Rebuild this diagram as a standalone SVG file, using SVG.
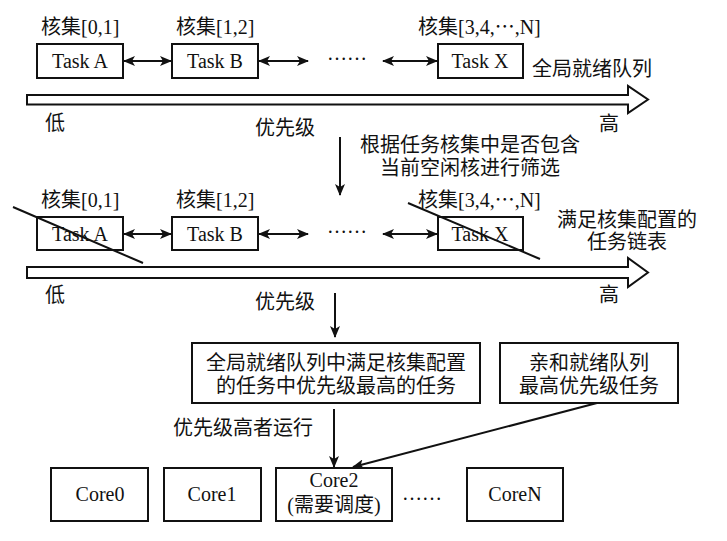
<svg xmlns="http://www.w3.org/2000/svg" width="727" height="541" viewBox="0 0 727 541">
<style>
.t{font-family:"Liberation Serif","Noto Sans CJK SC",serif;font-size:20px;fill:#111}
.c{text-anchor:middle}
.box{fill:#fff;stroke:#111;stroke-width:2}
.ln{fill:none;stroke:#111;stroke-width:2}
.big{fill:#fff;stroke:#111;stroke-width:2;stroke-linejoin:miter}
</style>
<defs>
<marker id="ah" viewBox="0 0 12 10" refX="11" refY="5" markerWidth="12" markerHeight="10" markerUnits="userSpaceOnUse" orient="auto-start-reverse">
<path d="M0,0 L12,5 L0,10 L3,5 Z" fill="#111"/>
</marker>
</defs>
<rect width="727" height="541" fill="#fff"/>

<!-- Top queue -->
<g id="queue1">
<g id="q1-taskA"><text class="t" x="41" y="34">核集[0,1]</text><rect class="box" x="37" y="44" width="86" height="34"/><text class="t c" x="80" y="68">Task A</text></g>
<g id="q1-taskB"><text class="t" x="176" y="34">核集[1,2]</text><rect class="box" x="172" y="44" width="86" height="34"/><text class="t c" x="215" y="68">Task B</text></g>
<g id="q1-dots"><text class="t" x="327" y="60">……</text></g>
<g id="q1-taskX"><text class="t" x="418" y="34">核集[3,4,⋯,N]</text><rect class="box" x="438" y="44" width="85" height="34"/><text class="t c" x="480" y="68">Task X</text></g>
<g id="q1-label"><text class="t" x="532" y="76">全局就绪队列</text></g>
<g id="q1-axis">
<path class="big" d="M27,95 H628 V86 L648,99.5 L628,113 V104.5 H27 Z"/>
<text class="t" x="45" y="130">低</text>
<text class="t" x="255" y="135">优先级</text>
<text class="t" x="599" y="131">高</text>
</g>
</g>

<g id="filter-label"><text class="t c" x="470" y="152">根据任务核集中是否包含</text><text class="t c" x="470" y="175">当前空闲核进行筛选</text></g>

<!-- Filtered queue -->
<g id="queue2">
<g id="q2-taskA"><text class="t" x="41" y="207">核集[0,1]</text><rect class="box" x="37" y="217" width="86" height="33"/><text class="t c" x="80" y="241">Task A</text><line class="ln" x1="13" y1="207" x2="143" y2="263"/></g>
<g id="q2-taskB"><text class="t" x="176" y="207">核集[1,2]</text><rect class="box" x="172" y="217" width="86" height="33"/><text class="t c" x="215" y="241">Task B</text></g>
<g id="q2-dots"><text class="t" x="327" y="233">……</text></g>
<g id="q2-taskX"><text class="t" x="418" y="207">核集[3,4,⋯,N]</text><rect class="box" x="438" y="217" width="85" height="33"/><text class="t c" x="480" y="241">Task X</text><line class="ln" x1="408" y1="203" x2="540" y2="259"/></g>
<g id="q2-label"><text class="t c" x="627" y="227">满足核集配置的</text><text class="t c" x="627" y="249">任务链表</text></g>
<g id="q2-axis">
<path class="big" d="M27,267 H628 V258 L648,272.5 L628,287 V278 H27 Z"/>
<text class="t" x="45" y="302">低</text>
<text class="t" x="255" y="309">优先级</text>
<text class="t" x="599" y="302">高</text>
</g>
</g>

<g id="global-best"><rect class="box" x="192" y="343" width="288" height="60"/><text class="t c" x="336" y="370">全局就绪队列中满足核集配置</text><text class="t c" x="336" y="393">的任务中优先级最高的任务</text></g>
<g id="affinity-best"><rect class="box" x="500" y="343" width="178" height="60"/><text class="t c" x="589" y="370">亲和就绪队列</text><text class="t c" x="589" y="393">最高优先级任务</text></g>
<g id="run-label"><text class="t" x="173" y="435">优先级高者运行</text></g>

<g id="core0"><rect class="box" x="51" y="468" width="97" height="53"/><text class="t c" x="100" y="501">Core0</text></g>
<g id="core1"><rect class="box" x="164" y="468" width="97" height="53"/><text class="t c" x="212" y="501">Core1</text></g>
<g id="core2"><rect class="box" x="276" y="468" width="116" height="53"/><text class="t c" x="334" y="487">Core2</text><text class="t c" x="334" y="512">(需要调度)</text></g>
<g id="core-dots"><text class="t" x="402" y="500">……</text></g>
<g id="coreN"><rect class="box" x="467" y="468" width="96" height="53"/><text class="t c" x="515" y="501">CoreN</text></g>

<g id="connectors">
<line class="ln" x1="124" y1="61" x2="171" y2="61" marker-start="url(#ah)" marker-end="url(#ah)"/>
<line class="ln" x1="259" y1="61" x2="308" y2="61" marker-start="url(#ah)" marker-end="url(#ah)"/>
<line class="ln" x1="383" y1="61" x2="437" y2="61" marker-start="url(#ah)" marker-end="url(#ah)"/>
<line class="ln" x1="124" y1="234" x2="171" y2="234" marker-start="url(#ah)" marker-end="url(#ah)"/>
<line class="ln" x1="259" y1="234" x2="308" y2="234" marker-start="url(#ah)" marker-end="url(#ah)"/>
<line class="ln" x1="383" y1="234" x2="437" y2="234" marker-start="url(#ah)" marker-end="url(#ah)"/>
<line class="ln" x1="340" y1="137" x2="340" y2="195" marker-end="url(#ah)"/>
<line class="ln" x1="335" y1="293" x2="335" y2="337" marker-end="url(#ah)"/>
<line class="ln" x1="334" y1="409" x2="334" y2="467" marker-end="url(#ah)"/>
<line class="ln" x1="597" y1="403" x2="353" y2="467" marker-end="url(#ah)"/>
</g>
</svg>
